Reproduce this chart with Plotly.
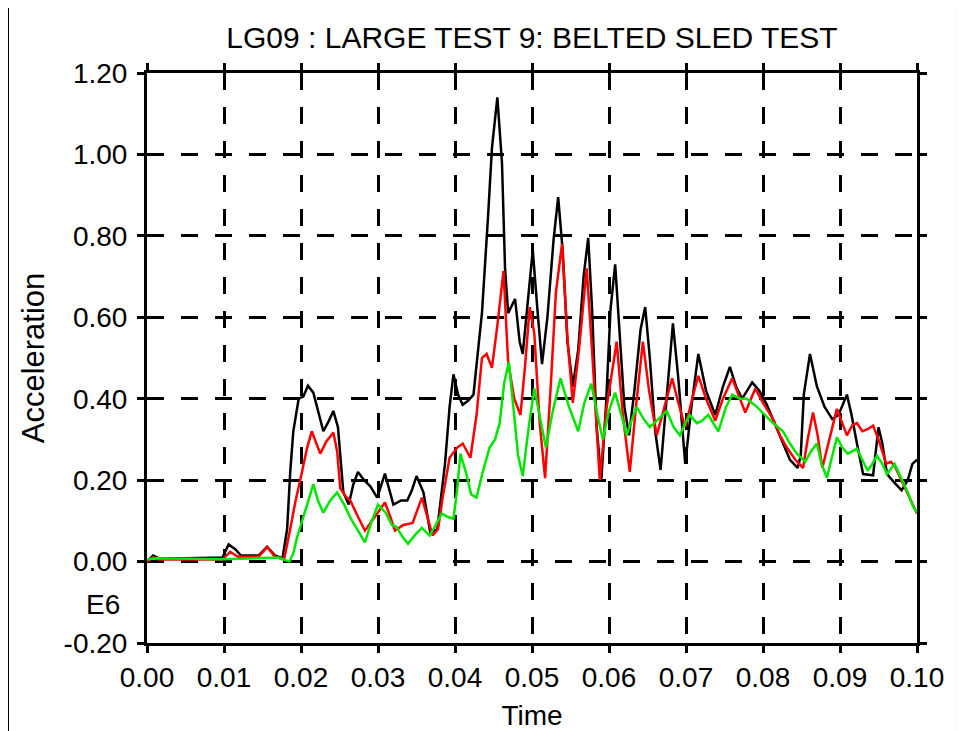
import plotly.graph_objects as go

# ------------------------------------------------------------------
# data (time in s, acceleration in E6)
# ------------------------------------------------------------------
t_black = [0.0000, 0.0008, 0.0015, 0.0050, 0.0098, 0.0106, 0.0115, 0.0122, 0.0145, 0.0156,
           0.0166, 0.0176, 0.0182, 0.0186, 0.0190, 0.0197, 0.0203, 0.0209, 0.0216, 0.0222,
           0.0229, 0.0236, 0.0242, 0.0248, 0.0255, 0.0262, 0.0268, 0.0274, 0.0282, 0.0290,
           0.0299, 0.0309, 0.0315, 0.0320, 0.0330, 0.0338, 0.0344, 0.0350, 0.0359, 0.0368,
           0.0377, 0.0387, 0.0393, 0.0398, 0.0404, 0.0410, 0.0417, 0.0424, 0.0430, 0.0435,
           0.0443, 0.0448, 0.0455, 0.0461, 0.0465, 0.0469, 0.0478, 0.0484, 0.0488, 0.0495,
           0.0501, 0.0507, 0.0513, 0.0520, 0.0528, 0.0534, 0.0540, 0.0546, 0.0553, 0.0560,
           0.0567, 0.0573, 0.0578, 0.0584, 0.0590, 0.0596, 0.0602, 0.0608, 0.0614, 0.0620,
           0.0626, 0.0633, 0.0641, 0.0647, 0.0653, 0.0660, 0.0667, 0.0674, 0.0683, 0.0690,
           0.0699, 0.0707, 0.0716, 0.0726, 0.0738, 0.0748, 0.0757, 0.0765, 0.0773, 0.0786,
           0.0795, 0.0805, 0.0815, 0.0826, 0.0835, 0.0845, 0.0849, 0.0853, 0.0861, 0.0870,
           0.0880, 0.0890, 0.0898, 0.0909, 0.0915, 0.0922, 0.0930, 0.0943, 0.0950, 0.0955,
           0.0961, 0.0970, 0.0980, 0.0988, 0.0994, 0.1000]
a_black = [0.000, 0.015, 0.008, 0.008, 0.010, 0.042, 0.030, 0.015, 0.015, 0.036,
           0.015, 0.008, 0.080, 0.220, 0.320, 0.400, 0.405, 0.432, 0.415, 0.370,
           0.320, 0.345, 0.370, 0.330, 0.170, 0.140, 0.190, 0.220, 0.200, 0.185,
           0.157, 0.216, 0.175, 0.140, 0.150, 0.150, 0.175, 0.210, 0.170, 0.070,
           0.080, 0.240, 0.380, 0.460, 0.410, 0.385, 0.395, 0.410, 0.520, 0.610,
           0.850, 1.016, 1.140, 0.980, 0.720, 0.610, 0.645, 0.540, 0.510, 0.640,
           0.765, 0.620, 0.485, 0.600, 0.790, 0.895, 0.760, 0.540, 0.430, 0.520,
           0.700, 0.795, 0.620, 0.330, 0.200, 0.380, 0.620, 0.730, 0.560, 0.380,
           0.310, 0.420, 0.570, 0.625, 0.500, 0.320, 0.225, 0.380, 0.585, 0.450,
           0.240, 0.380, 0.510, 0.420, 0.360, 0.430, 0.478, 0.430, 0.400, 0.440,
           0.420, 0.385, 0.340, 0.295, 0.250, 0.230, 0.260, 0.410, 0.510, 0.430,
           0.380, 0.350, 0.360, 0.410, 0.360, 0.290, 0.215, 0.212, 0.330, 0.290,
           0.215, 0.195, 0.175, 0.200, 0.240, 0.250]

t_red = [0.0000, 0.0008, 0.0015, 0.0098, 0.0108, 0.0118, 0.0145, 0.0156, 0.0166, 0.0178,
         0.0186, 0.0193, 0.0199, 0.0208, 0.0214, 0.0220, 0.0225, 0.0233, 0.0242, 0.0247,
         0.0251, 0.0258, 0.0264, 0.0274, 0.0283, 0.0296, 0.0309, 0.0316, 0.0322, 0.0333,
         0.0345, 0.0357, 0.0364, 0.0371, 0.0378, 0.0384, 0.0393, 0.0403, 0.0410, 0.0420,
         0.0428, 0.0435, 0.0441, 0.0448, 0.0455, 0.0463, 0.0469, 0.0477, 0.0485, 0.0491,
         0.0497, 0.0503, 0.0510, 0.0517, 0.0524, 0.0531, 0.0539, 0.0546, 0.0553, 0.0561,
         0.0571, 0.0578, 0.0588, 0.0597, 0.0610, 0.0618, 0.0627, 0.0635, 0.0644, 0.0652,
         0.0662, 0.0672, 0.0682, 0.0690, 0.0699, 0.0708, 0.0716, 0.0726, 0.0738, 0.0748,
         0.0760, 0.0768, 0.0777, 0.0790, 0.0800, 0.0813, 0.0822, 0.0831, 0.0842, 0.0852,
         0.0858, 0.0865, 0.0871, 0.0877, 0.0886, 0.0896, 0.0903, 0.0909, 0.0916, 0.0922,
         0.0929, 0.0936, 0.0943, 0.0950, 0.0960, 0.0966, 0.0971, 0.0985, 0.1000]
a_red = [0.000, 0.010, 0.005, 0.005, 0.024, 0.012, 0.012, 0.036, 0.012, 0.005,
         0.080, 0.150, 0.200, 0.280, 0.320, 0.290, 0.265, 0.295, 0.317, 0.270,
         0.180, 0.160, 0.150, 0.110, 0.076, 0.110, 0.145, 0.110, 0.076, 0.090,
         0.095, 0.157, 0.110, 0.064, 0.080, 0.157, 0.255, 0.280, 0.290, 0.255,
         0.360, 0.500, 0.510, 0.476, 0.580, 0.714, 0.490, 0.400, 0.360, 0.480,
         0.625, 0.560, 0.340, 0.205, 0.420, 0.660, 0.780, 0.550, 0.390, 0.520,
         0.720, 0.520, 0.200, 0.380, 0.540, 0.360, 0.220, 0.380, 0.540, 0.420,
         0.310, 0.380, 0.450, 0.390, 0.330, 0.400, 0.456, 0.400, 0.346, 0.400,
         0.450, 0.410, 0.366, 0.425, 0.390, 0.350, 0.310, 0.280, 0.250, 0.230,
         0.300, 0.366, 0.310, 0.230, 0.300, 0.375, 0.340, 0.310, 0.335, 0.340,
         0.320, 0.325, 0.334, 0.300, 0.240, 0.245, 0.235, 0.180, 0.118]

t_green = [0.0000, 0.0010, 0.0100, 0.0150, 0.0170, 0.0185, 0.0190, 0.0195, 0.0202, 0.0208,
           0.0216, 0.0222, 0.0229, 0.0238, 0.0247, 0.0256, 0.0264, 0.0274, 0.0283, 0.0292,
           0.0300, 0.0310, 0.0318, 0.0324, 0.0332, 0.0339, 0.0348, 0.0357, 0.0367, 0.0375,
           0.0383, 0.0390, 0.0398, 0.0403, 0.0407, 0.0414, 0.0421, 0.0428, 0.0436, 0.0445,
           0.0452, 0.0458, 0.0464, 0.0470, 0.0476, 0.0482, 0.0488, 0.0495, 0.0503, 0.0510,
           0.0518, 0.0527, 0.0537, 0.0548, 0.0560, 0.0568, 0.0577, 0.0585, 0.0592, 0.0600,
           0.0608, 0.0616, 0.0623, 0.0630, 0.0636, 0.0645, 0.0653, 0.0664, 0.0675, 0.0684,
           0.0692, 0.0699, 0.0705, 0.0714, 0.0720, 0.0729, 0.0742, 0.0752, 0.0760, 0.0770,
           0.0779, 0.0792, 0.0803, 0.0813, 0.0826, 0.0835, 0.0844, 0.0855, 0.0862, 0.0870,
           0.0876, 0.0883, 0.0890, 0.0896, 0.0903, 0.0910, 0.0922, 0.0929, 0.0936, 0.0942,
           0.0948, 0.0955, 0.0961, 0.0971, 0.0978, 0.0988, 0.0995, 0.1000]
a_green = [0.005, 0.008, 0.006, 0.008, 0.010, 0.000, 0.020, 0.060, 0.100, 0.140,
           0.190, 0.150, 0.120, 0.150, 0.170, 0.140, 0.108, 0.075, 0.047, 0.100,
           0.140, 0.120, 0.090, 0.085, 0.060, 0.044, 0.065, 0.083, 0.064, 0.090,
           0.118, 0.110, 0.105, 0.180, 0.265, 0.220, 0.165, 0.157, 0.220, 0.280,
           0.300, 0.340, 0.440, 0.490, 0.370, 0.260, 0.210, 0.320, 0.425, 0.360,
           0.280, 0.370, 0.450, 0.380, 0.320, 0.390, 0.437, 0.360, 0.300, 0.370,
           0.415, 0.360, 0.310, 0.350, 0.380, 0.350, 0.330, 0.350, 0.370, 0.330,
           0.310, 0.340, 0.360, 0.340, 0.345, 0.360, 0.320, 0.380, 0.410, 0.400,
           0.400, 0.380, 0.360, 0.340, 0.320, 0.290, 0.265, 0.245, 0.270, 0.290,
           0.240, 0.206, 0.260, 0.305, 0.280, 0.265, 0.277, 0.250, 0.223, 0.240,
           0.260, 0.240, 0.215, 0.240, 0.210, 0.170, 0.135, 0.120]

# tick positions and labels (plain hyphen for the negative one, as in the original)
x_ticks = [0.00, 0.01, 0.02, 0.03, 0.04, 0.05, 0.06, 0.07, 0.08, 0.09, 0.10]
x_labels = ["0.00", "0.01", "0.02", "0.03", "0.04", "0.05", "0.06", "0.07", "0.08", "0.09", "0.10"]
y_ticks = [-0.2, 0.0, 0.2, 0.4, 0.6, 0.8, 1.0, 1.2]
y_labels = ["-0.20", "0.00", "0.20", "0.40", "0.60", "0.80", "1.00", "1.20"]

FONT = "Liberation Sans, Arial, sans-serif"

fig = go.Figure()

for t, a, col in [(t_black, a_black, "#000000"),
                  (t_red, a_red, "#ff0000"),
                  (t_green, a_green, "#00e600")]:
    fig.add_trace(go.Scatter(x=t, y=a, mode="lines",
                             line=dict(color=col, width=2.5),
                             showlegend=False, hoverinfo="skip"))

axis_style = dict(
    showline=True, linecolor="black", linewidth=3, mirror="ticks",
    ticks="outside", ticklen=7, tickwidth=3, tickcolor="black",
    showgrid=True, gridcolor="black", gridwidth=3, griddash="17px,17px",
    zeroline=False, tickmode="array", automargin=False,
    tickfont=dict(family=FONT, size=28, color="black"),
)

fig.update_xaxes(range=[0, 0.1], tickvals=x_ticks, ticktext=x_labels,
                 title=dict(text="Time", standoff=14,
                            font=dict(family=FONT, size=28, color="black")),
                 **axis_style)
fig.update_yaxes(range=[-0.2, 1.2], tickvals=y_ticks, ticktext=y_labels,
                 ticklabelstandoff=4,
                 title=dict(text="Acceleration", standoff=10,
                            font=dict(family=FONT, size=31, color="black")),
                 **axis_style)

# the page has an 8px body margin, so the figure is 8px smaller than the window
fig.update_layout(
    width=957, height=723,
    paper_bgcolor="white", plot_bgcolor="white",
    margin=dict(l=139, r=48, t=65, b=88),
    title=dict(text="LG09 : LARGE TEST 9: BELTED SLED TEST",
               x=0.5, xref="paper", xanchor="center",
               y=1 - 29 / 723, yref="container", yanchor="middle",
               font=dict(family=FONT, size=30, color="black")),
    annotations=[dict(text="E6", xref="paper", yref="paper",
                      x=-0.057, y=0.068, xanchor="center", yanchor="middle",
                      showarrow=False,
                      font=dict(family=FONT, size=28, color="black"))],
    # thin outer frame of the original picture
    shapes=[dict(type="rect", xref="paper", yref="paper",
                 x0=-0.1805, x1=1.0532, y0=-0.2, y1=1.1193,
                 line=dict(color="black", width=2), layer="below")],
)

fig.write_html("out.html")
